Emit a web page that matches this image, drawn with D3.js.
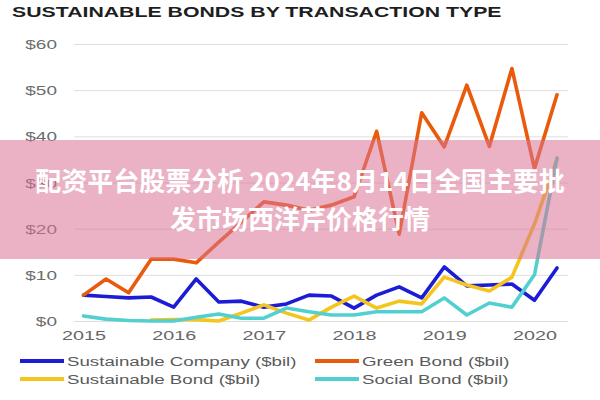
<!DOCTYPE html>
<html><head><meta charset="utf-8">
<script src="https://cdn.jsdelivr.net/npm/d3@7"></script>
<style>body{margin:0;background:#fff}svg{display:block}</style>
</head><body>
<svg id="c" width="600" height="400"></svg>
<script>
const quarters = ["2015Q1","2015Q2","2015Q3","2015Q4","2016Q1","2016Q2","2016Q3","2016Q4",
  "2017Q1","2017Q2","2017Q3","2017Q4","2018Q1","2018Q2","2018Q3","2018Q4",
  "2019Q1","2019Q2","2019Q3","2019Q4","2020Q1","2020Q2"];
const yearTicks = ["2015Q1","2016Q1","2017Q1","2018Q1","2019Q1","2020Q1"];
const yTicks = [0,10,20,30,40,50,60];
const sustainableCompany = [5.6,5.3,5.0,5.2,3.0,9.1,4.1,4.3,3.0,3.7,5.6,5.4,2.8,5.6,7.4,5.0,11.7,7.6,7.8,8.0,4.5,11.5];
const greenBond = [5.6,9.1,6.1,13.4,13.4,12.6,17.1,21.4,25.8,25.1,24.0,25.1,26.9,41.1,18.8,45.1,37.7,51.1,37.8,54.7,33.0,49.0];
const sustainableBond = [null,null,null,0.2,0.3,0.3,0,1.7,3.5,1.7,0.2,3.0,5.4,2.8,4.3,3.7,9.5,7.8,6.5,9.5,21.0,35.0];
const socialBond = [1.1,0.4,0.1,0,0,0.8,1.5,0.6,0.6,2.8,2.0,1.3,1.3,2.0,2.0,2.0,5.0,1.3,3.9,3.0,10.0,35.3];
const seriesNames = ["Sustainable Company ($bil)","Green Bond ($bil)","Sustainable Bond ($bil)","Social Bond ($bil)"];
const seriesColors = ["#1c1cd6","#ea5a0c","#f4c51c","#52d0d0"];
const title = "SUSTAINABLE BONDS BY TRANSACTION TYPE";
const overlayLines = ["配资平台股票分析 2024年8月14日全国主要批","发市场西洋芹价格行情"];

const SX = 1.52;
const svg = d3.select("#c");
const x = d3.scalePoint().domain(quarters).range([83.5, 557]);
const y = d3.scaleLinear().domain([0,60]).range([321,44]);
const gridL = 74, gridR = 568;

function sText(parent, px, py, str, o) {
  return parent.append("text")
    .attr("transform", `translate(${px},${py}) scale(${SX},1)`)
    .attr("text-anchor", o.anchor || "start")
    .attr("font-family", "'Liberation Sans', Arial, sans-serif")
    .attr("font-size", o.size || 12)
    .attr("font-weight", o.weight || "normal")
    .attr("fill", o.fill || "#666")
    .text(str);
}

// title
sText(svg, 12, 17, title, {size:14, weight:"bold", fill:"#1e1e1e"});

// y grid + labels via axis
const yAxis = d3.axisLeft(y).tickValues(yTicks).tickSize(-(gridR-gridL)).tickFormat(d => "$" + d);
const gy = svg.append("g").attr("transform", `translate(${gridL},0)`).call(yAxis);
gy.select(".domain").remove();
gy.selectAll(".tick line").attr("stroke", "#dedede");
gy.selectAll(".tick text").each(function(d){
  d3.select(this).attr("x", null).attr("dy", null)
    .attr("transform", `translate(-17,4.5) scale(${SX},1)`)
    .attr("text-anchor","end")
    .attr("font-family","'Liberation Sans', Arial, sans-serif")
    .attr("font-size", 12.5).attr("fill","#6b6b6b");
});

// x labels via axis
const xAxis = d3.axisBottom(x).tickValues(yearTicks).tickSize(0).tickFormat(d => d.slice(0,4));
const gx = svg.append("g").attr("transform", `translate(0,${y(0)})`).call(xAxis);
gx.select(".domain").remove();
gx.selectAll(".tick text").attr("y", null).attr("dy", null)
  .attr("transform", `translate(0,19) scale(${SX},1)`)
  .attr("font-family","'Liberation Sans', Arial, sans-serif")
  .attr("font-size", 13).attr("fill","#666");

// lines
const data = [sustainableCompany, greenBond, sustainableBond, socialBond];
const line = d3.line()
  .defined(d => d.v !== null)
  .x(d => x(d.q)).y(d => y(d.v));
data.forEach((vals, i) => {
  svg.append("path")
    .datum(vals.map((v, j) => ({q: quarters[j], v})))
    .attr("d", line)
    .attr("fill","none")
    .attr("stroke", seriesColors[i])
    .attr("stroke-width", 3.6)
    .attr("stroke-linejoin","round")
    .attr("stroke-linecap","round");
});

// legend
const legPos = [[20,361],[315,361],[20,379],[315,379]];
seriesNames.forEach((n, i) => {
  const [lx, ly] = legPos[i];
  svg.append("line").attr("x1", lx).attr("x2", lx+44).attr("y1", ly).attr("y2", ly)
    .attr("stroke", seriesColors[i]).attr("stroke-width", 4);
  sText(svg, lx+47, ly+4.5, n, {size:12.3, fill:"#5a5a5a"});
});

// overlay banner
svg.append("rect").attr("x",0).attr("y",140).attr("width",600).attr("height",119)
  .attr("fill","rgb(217,115,148)").attr("fill-opacity",0.55);
const ot = svg.append("g").attr("font-family","'Noto Sans CJK SC', sans-serif")
  .attr("font-weight","bold").attr("font-size",26).attr("fill","#fff").attr("text-anchor","middle");
ot.append("text").attr("x",300).attr("y",191).text(overlayLines[0]);
ot.append("text").attr("x",300).attr("y",229).text(overlayLines[1]);
</script>
</body></html>
